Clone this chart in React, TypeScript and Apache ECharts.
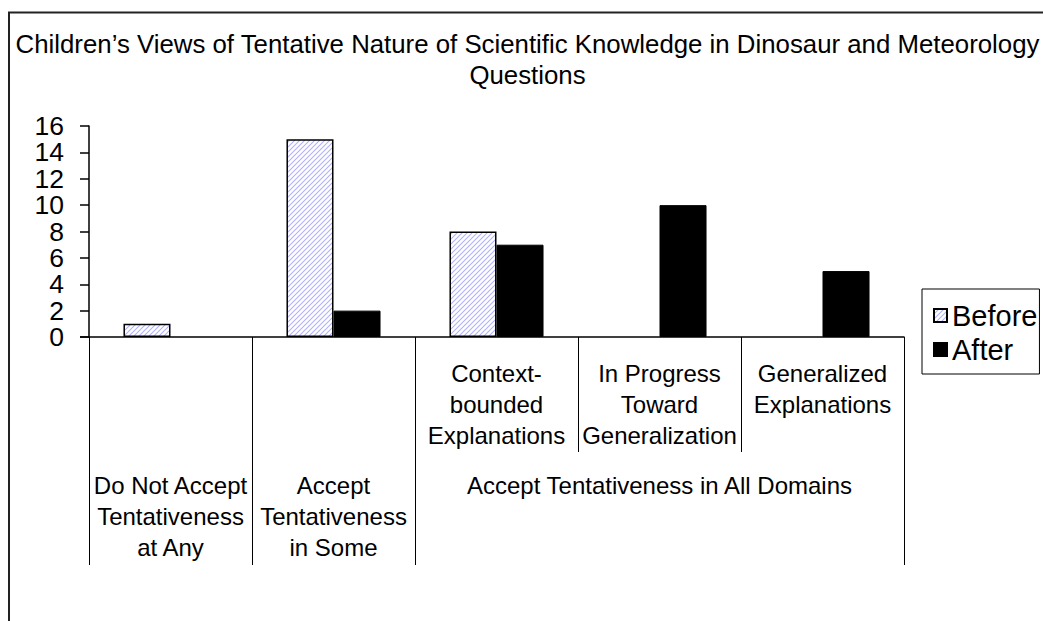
import React, { useEffect, useRef } from "react";
import * as echarts from "echarts";

const categories = [
  "Do Not Accept Tentativeness at Any",
  "Accept Tentativeness in Some",
  "Context-bounded Explanations",
  "In Progress Toward Generalization",
  "Generalized Explanations",
];
const subLabels = [
  "",
  "",
  "Context-\nbounded\nExplanations",
  "In Progress\nToward\nGeneralization",
  "Generalized\nExplanations",
];
const groupLabels = [
  "Do Not Accept\nTentativeness\nat Any",
  "Accept\nTentativeness\nin Some",
  "Accept Tentativeness in All Domains",
];
const groupStart = [0, 1, 2];
const groupEnd = [0, 1, 4];

const yTicks = [0, 2, 4, 6, 8, 10, 12, 14, 16];

const beforeValues = [1, 15, 8, 0, 0];
const afterValues = [0, 2, 7, 10, 5];

const titleText =
  "Children\u2019s Views of Tentative Nature of Scientific Knowledge in Dinosaur and Meteorology\nQuestions";

const FONT = "'Liberation Sans', Arial, sans-serif";

function makeHatch(): HTMLCanvasElement {
  const s = 5;
  const c = document.createElement("canvas");
  c.width = s;
  c.height = s;
  const ctx = c.getContext("2d")!;
  ctx.fillStyle = "#ffffff";
  ctx.fillRect(0, 0, s, s);
  ctx.strokeStyle = "#b0b0ff";
  ctx.lineWidth = 1.1;
  ctx.beginPath();
  ctx.moveTo(0, s);
  ctx.lineTo(s, 0);
  ctx.moveTo(-1, 1);
  ctx.lineTo(1, -1);
  ctx.moveTo(s - 1, s + 1);
  ctx.lineTo(s + 1, s - 1);
  ctx.stroke();
  return c;
}

const toBarData = (vals: number[]) =>
  vals.map((v) => (v === 0 ? { value: v, itemStyle: { borderWidth: 0, opacity: 0 } } : v));

export default function App() {
  const ref = useRef<HTMLDivElement>(null);

  useEffect(() => {
    if (!ref.current) return;
    const chart = echarts.init(ref.current, undefined, { renderer: "svg" });
    const hatch = { image: makeHatch(), repeat: "repeat" } as any;

    chart.setOption({
      animation: false,
      backgroundColor: "#ffffff",
      textStyle: { fontFamily: FONT },
      title: {
        text: titleText,
        left: 527.5,
        top: 28,
        padding: 0,
        textAlign: "center",
        textStyle: {
          fontFamily: FONT,
          fontSize: 25.8,
          fontWeight: "normal",
          color: "#000",
          lineHeight: 31,
        },
      },
      legend: {
        orient: "vertical",
        left: 922,
        top: 289,
        padding: [12, 2, 10, 11],
        itemGap: 5,
        itemWidth: 13,
        itemHeight: 13,
        icon: "rect",
        borderColor: "#000",
        borderWidth: 1,
        textStyle: { fontFamily: FONT, fontSize: 29, color: "#000", lineHeight: 28 },
        data: ["Before", "After"],
      },
      grid: { left: 89, right: 139, top: 126, bottom: 284, containLabel: false },
      xAxis: {
        type: "category",
        data: categories,
        axisLine: { show: true, lineStyle: { color: "#000", width: 1.5 } },
        axisTick: { show: true, length: 115, interval: 0, lineStyle: { color: "#000", width: 1 } },
        axisLabel: {
          interval: 0,
          margin: 20.5,
          fontFamily: FONT,
          fontSize: 24,
          lineHeight: 31,
          color: "#000",
          formatter: (_v: string, i: number) => subLabels[i],
        },
        splitLine: { show: false },
      },
      yAxis: {
        type: "value",
        min: yTicks[0],
        max: yTicks[yTicks.length - 1],
        interval: 2,
        axisLine: { show: true, onZero: false, lineStyle: { color: "#000", width: 1.5 } },
        axisTick: { show: true, length: 9, lineStyle: { color: "#000", width: 1.5 } },
        axisLabel: { show: false },
        splitLine: { show: false },
      },
      series: [
        {
          name: "Before",
          type: "bar",
          data: toBarData(beforeValues),
          barGap: "0%",
          barCategoryGap: "42.3%",
          itemStyle: { color: hatch, borderColor: "#000", borderWidth: 1.5 },
        },
        {
          name: "After",
          type: "bar",
          data: toBarData(afterValues),
          barGap: "0%",
          barCategoryGap: "42.3%",
          itemStyle: { color: "#000", borderColor: "#000", borderWidth: 1 },
        },
      ],
    });

    const c0 = chart.convertToPixel({ xAxisIndex: 0 }, 0) as number;
    const c1 = chart.convertToPixel({ xAxisIndex: 0 }, 1) as number;
    const bw = c1 - c0;
    const y0 = chart.convertToPixel({ yAxisIndex: 0 }, 0) as number;
    const boundary = (i: number) => c0 - bw / 2 + i * bw;

    const graphics: any[] = [
      {
        type: "rect",
        silent: true,
        shape: { x: 9, y: 12.5, width: 1300, height: 900 },
        style: { fill: "none", stroke: "#222", lineWidth: 2 },
      },
      {
        type: "line",
        silent: true,
        shape: { x1: boundary(0) - 9, y1: y0, x2: boundary(0), y2: y0 },
        style: { stroke: "#000", lineWidth: 1.5 },
      },
    ];
    yTicks.forEach((t) => {
      const y = chart.convertToPixel({ yAxisIndex: 0 }, t) as number;
      graphics.push({
        type: "text",
        silent: true,
        x: boundary(0) - 25,
        y,
        style: {
          text: String(t),
          fontFamily: FONT,
          fontSize: 26.5,
          lineHeight: 26,
          fill: "#000",
          align: "right",
          verticalAlign: "middle",
        },
      });
    });
    const bounds = new Set<number>();
    groupStart.forEach((s, gi) => {
      bounds.add(s);
      bounds.add(groupEnd[gi] + 1);
    });
    bounds.forEach((b) => {
      const x = Math.round(boundary(b)) + 0.5;
      graphics.push({
        type: "line",
        silent: true,
        shape: { x1: x, y1: y0, x2: x, y2: y0 + 228 },
        style: { stroke: "#000", lineWidth: 1 },
      });
    });
    groupLabels.forEach((lab, gi) => {
      const cx = (boundary(groupStart[gi]) + boundary(groupEnd[gi] + 1)) / 2;
      graphics.push({
        type: "text",
        silent: true,
        x: cx,
        y: y0 + 132.5,
        style: {
          text: lab,
          fontFamily: FONT,
          fontSize: 24,
          lineHeight: 31,
          fill: "#000",
          align: "center",
          verticalAlign: "top",
        },
      });
    });
    chart.setOption({ graphic: graphics });

    return () => chart.dispose();
  }, []);

  return (
    <div
      ref={ref}
      style={{ position: "absolute", left: 0, top: 0, width: 1043, height: 621, background: "#fff" }}
    />
  );
}
